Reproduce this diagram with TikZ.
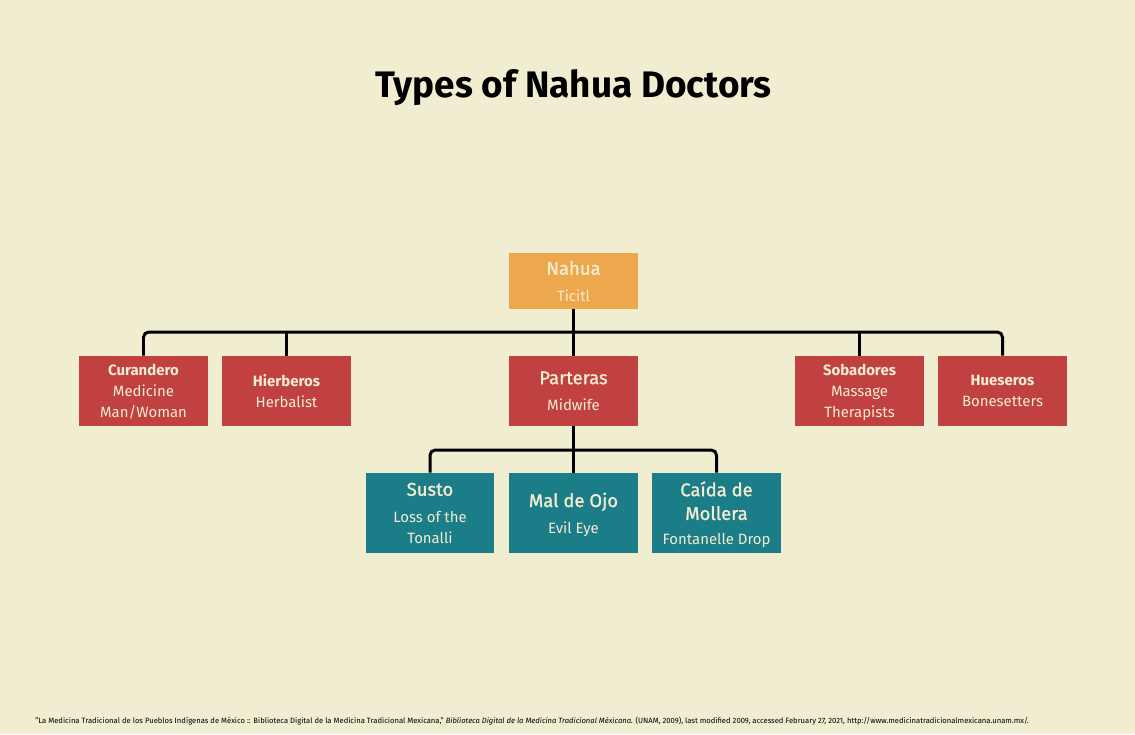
\documentclass[tikz,border=0pt]{standalone}
\usepackage{fontspec}
\setmainfont{Fira Sans}
\newfontfamily\medfont[FakeBold=1.2]{Fira Sans}
\usepackage{tikz}
\usetikzlibrary{positioning}

\definecolor{paper}{RGB}{241,237,209}
\definecolor{docred}{RGB}{192,65,64}
\definecolor{docteal}{RGB}{26,125,135}
\definecolor{docorange}{RGB}{237,168,78}
\definecolor{boxtext}{RGB}{243,236,208}

\newcommand{\bighead}[1]{{\medfont\fontsize{10.5}{12}\selectfont #1}}

\begin{document}
\begin{tikzpicture}[
        x=0.02cm, y=-0.02cm,
        box/.style={
          rectangle,
          inner sep=0pt,
          minimum width=2.58cm,
          align=center,
          text depth=0pt,
          text=boxtext,
          font=\fontsize{8.5}{12}\selectfont
        },
        redbox/.style={box, fill=docred, minimum height=1.4cm},
        tealbox/.style={box, fill=docteal, minimum height=1.6cm},
        topbox/.style={box, fill=docorange, minimum height=1.12cm},
        link/.style={draw=black, line width=1.7pt, rounded corners=3pt}
      ]
      \fill[paper] (0,0) rectangle (1135,734);
      \useasboundingbox (0,0) rectangle (1135,734);

      \node[font=\bfseries\fontsize{21}{24}\selectfont] (title) at (573.5,88) {Types of Nahua Doctors};

      % top
      \node[topbox] (nahua) at (573.5,281) {\bighead{Nahua}\\[3pt] Ticitl};

      % second row
      \node[redbox] (cur) at (143.5,391) {{\bfseries Curandero}\\ Medicine\\ Man/Woman};
      \node[redbox] (hier) at (286.5,391) {{\bfseries Hierberos}\\ Herbalist};
      \node[redbox] (par) at (573.5,391) {\bighead{Parteras}\\[3pt] Midwife};
      \node[redbox] (sob) at (859.5,391) {{\bfseries Sobadores}\\ Massage\\ Therapists};
      \node[redbox] (hue) at (1002.5,391) {{\bfseries Hueseros}\\ Bonesetters};

      % third row
      \node[tealbox] (susto) at (430,513) {\bighead{Susto}\\[3pt] Loss of the\\ Tonalli};
      \node[tealbox] (mal) at (573.5,513) {\bighead{Mal de Ojo}\\[3pt] Evil Eye};
      \node[tealbox] (caida) at (716.5,513) {\bighead{Caída de}\\[1.5pt] \bighead{Mollera}\\[2pt] Fontanelle Drop};

      \coordinate (split) at (573.5,332);
      \coordinate (split2) at (573.5,450);

      \draw[link] (cur.north) |- (split) -| (hue.north);
      \draw[link] (nahua.south) -- (par.north);
      \draw[link] (hier.north) -- (hier.north |- split);
      \draw[link] (sob.north) -- (sob.north |- split);

      \draw[link] (susto.north) |- (split2) -| (caida.north);
      \draw[link] (par.south) -- (mal.north);

      \node[anchor=west, inner sep=0pt, font=\fontsize{4.35}{5}\selectfont] (source) at (35,721)
        {"La Medicina Tradicional de los Pueblos Indígenas de México :: Biblioteca Digital de la Medicina Tradicional Mexicana," \textit{Biblioteca Digital de la Medicina Tradicional Méxicana.} (UNAM, 2009), last modified 2009, accessed February 27, 2021, http://www.medicinatradicionalmexicana.unam.mx/.};
    \end{tikzpicture}
\end{document}
